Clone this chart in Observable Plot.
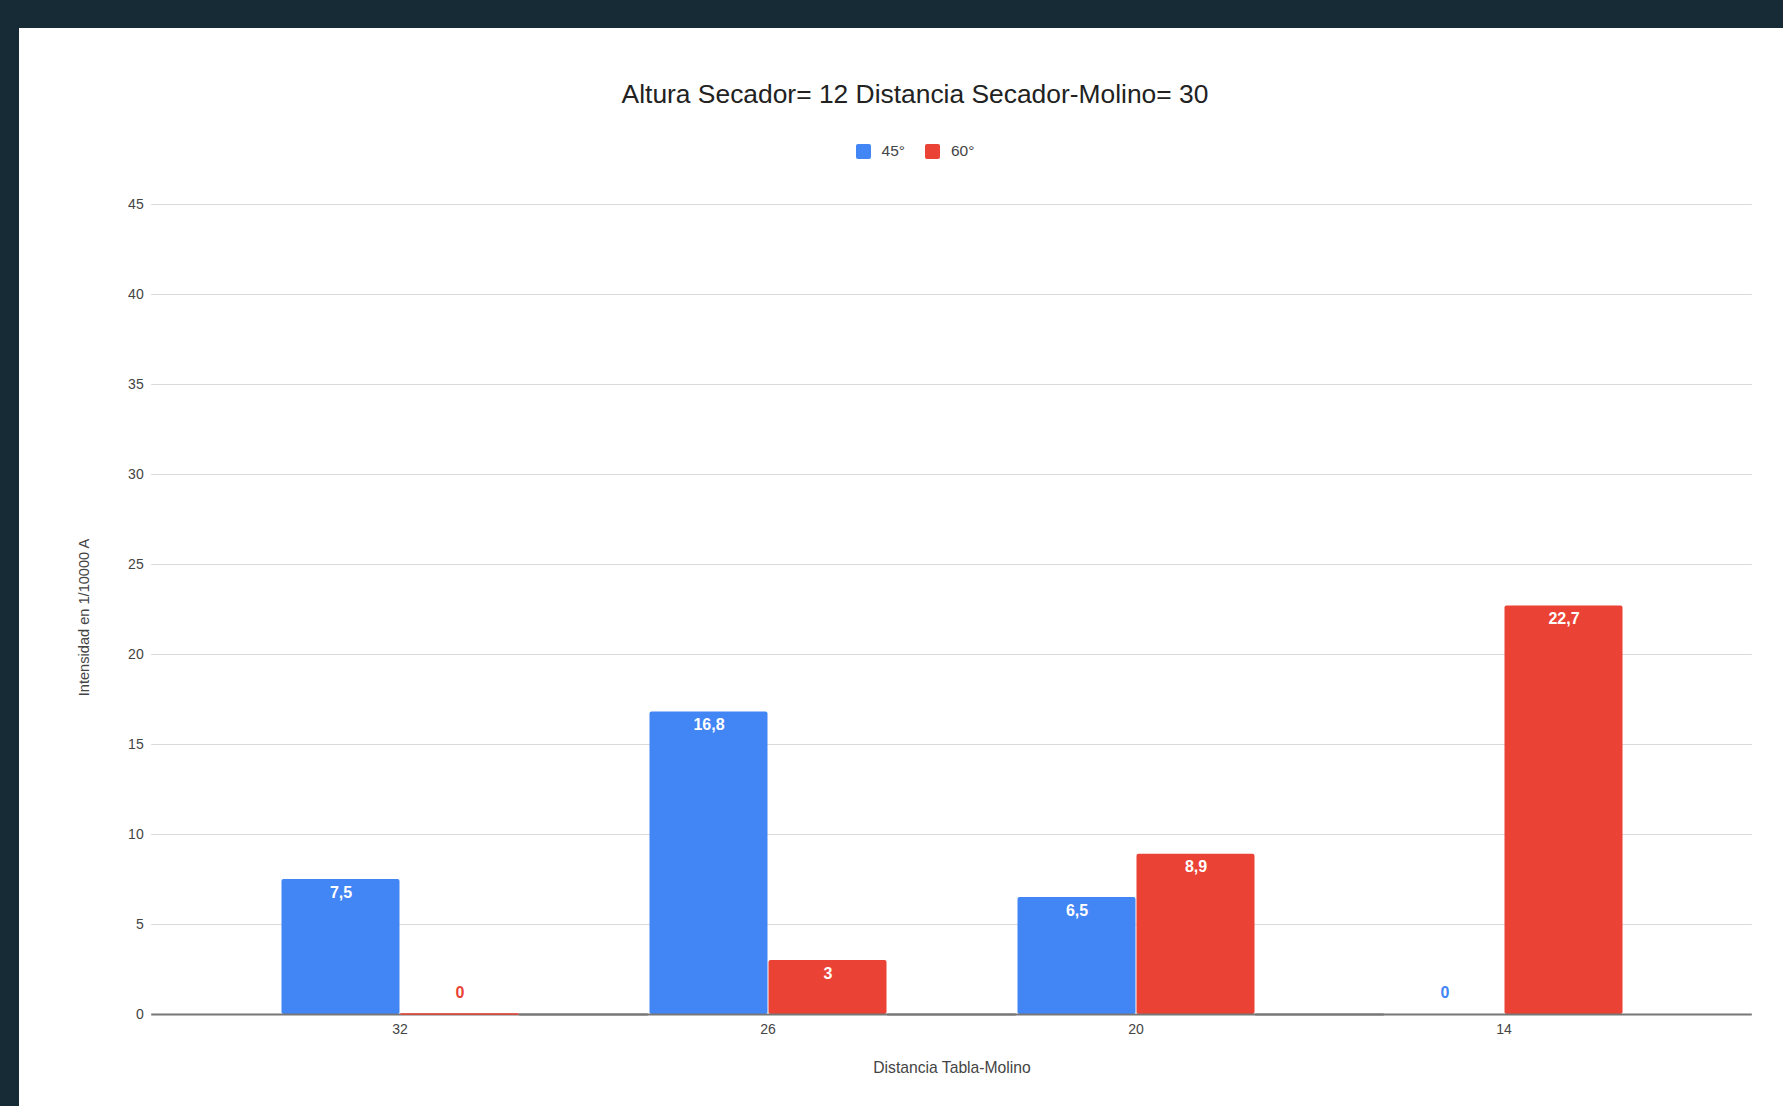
<!DOCTYPE html>
<html>
<head>
<meta charset="utf-8">
<script src="https://cdn.jsdelivr.net/npm/d3@7"></script>
<script src="https://cdn.jsdelivr.net/npm/@observablehq/plot@0.6"></script>
<style>
  html, body { margin: 0; padding: 0; background: #162b35; width: 1783px; height: 1106px; overflow: hidden; }
  #panel { position: absolute; left: 19px; top: 28px; width: 1764px; height: 1078px; background: #ffffff; font-family: "Liberation Sans", Arial, sans-serif; }
  #title { position: absolute; left: 496px; width: 800px; top: 50px; height: 32px; line-height: 32px; text-align: center; font-size: 26.4px; color: #222; }
  #legend { position: absolute; left: 496px; width: 800px; top: 112px; height: 22px; display: flex; justify-content: center; align-items: center; font-size: 15.5px; color: #444; }
  .item { display: flex; align-items: center; margin: 0 10px; }
  .sw { width: 15px; height: 15px; border-radius: 2px; margin-right: 11px; }
  #chart { position: absolute; left: 0; top: 142px; }
  #chart svg g[aria-label="fx-axis label"] text, #chart svg g[aria-label="fx-axis label"] { font-size: 15.7px; }
  #chart svg g[aria-label="y-axis label"] text, #chart svg g[aria-label="y-axis label"] { font-size: 14.6px; }
</style>
</head>
<body>
<div id="panel">
  <div id="title">Altura Secador= 12 Distancia Secador-Molino= 30</div>
  <div id="legend"></div>
  <div id="chart"></div>
</div>
<script>
const categories = ["32", "26", "20", "14"];
const series = ["45°", "60°"];
const values45 = [7.5, 16.8, 6.5, 0];
const values60 = [0, 3, 8.9, 22.7];
const yTicks = [0, 5, 10, 15, 20, 25, 30, 35, 40, 45];
const colors = ["#4285F4", "#EA4335"];
const xTitle = "Distancia Tabla-Molino";
const yTitle = "Intensidad en 1/10000 A";

const data = categories.flatMap((c, i) => [
  {cat: c, series: series[0], value: values45[i]},
  {cat: c, series: series[1], value: values60[i]}
]);
const fmt = d => String(d.value).replace(".", ",");

// legend
const legend = document.getElementById("legend");
series.forEach((s, i) => {
  const it = document.createElement("div");
  it.className = "item";
  it.innerHTML = `<span class="sw" style="background:${colors[i]}"></span><span>${s}</span>`;
  legend.appendChild(it);
});

const W = 1764, H = 936;
const mL = 132, mR = 31, mT = 34, mB = 92;
const pad = 0.35;
const step = (W - mL - mR) / (categories.length - pad + 2 * pad);
const gap = pad * step;

const chart = Plot.plot({
  width: W, height: H,
  marginLeft: mL, marginRight: mR, marginTop: mT, marginBottom: mB,
  style: {fontFamily: "'Liberation Sans', Arial, sans-serif", fontSize: "14px", color: "#444", background: "transparent", overflow: "visible"},
  fx: {domain: categories, paddingInner: pad, paddingOuter: pad, axis: "bottom", tickSize: 0, tickPadding: 10,
       label: xTitle, labelAnchor: "center", labelOffset: 58},
  x: {domain: series, axis: null, padding: 0},
  y: {domain: [0, 45], ticks: yTicks, tickSize: 0, tickPadding: gap + 8,
      label: yTitle, labelAnchor: "center", labelOffset: gap + 73, labelArrow: "none"},
  color: {domain: series, range: colors},
  marks: [
    Plot.ruleY(yTicks.filter(t => t > 0), {stroke: "#d9d9d9", strokeWidth: 1.2, insetLeft: -gap, insetRight: -gap}),
    Plot.barY(data, {fx: "cat", x: "series", y: "value", fill: "series", rx: 2, insetLeft: 0.5, insetRight: 0.5}),
    Plot.ruleY([0], {stroke: "#777", strokeWidth: 1.8, insetLeft: -gap, insetRight: -gap}),
    Plot.tickY(data.filter(d => d.value === 0 && d.series === series[1]), {fx: "cat", x: "series", y: "value", stroke: "series", strokeWidth: 1.4, dy: -0.5, insetLeft: 0.5, insetRight: 0.5}),
    Plot.text(data.filter(d => d.value !== 0), {fx: "cat", x: "series", y: "value", text: fmt, dy: 13, fill: "white", fontWeight: "bold", fontSize: 16}),
    Plot.text(data.filter(d => d.value === 0), {fx: "cat", x: "series", y: "value", text: fmt, dy: -22, fill: "series", fontWeight: "bold", fontSize: 16})
  ]
});
// nudge the y-axis title slightly down, as in the reference
const yl = chart.querySelector('g[aria-label="y-axis label"]');
if (yl) yl.setAttribute("transform", ((yl.getAttribute("transform") || "") + " translate(0,8)").trim());
document.getElementById("chart").appendChild(chart);
</script>
</body>
</html>
